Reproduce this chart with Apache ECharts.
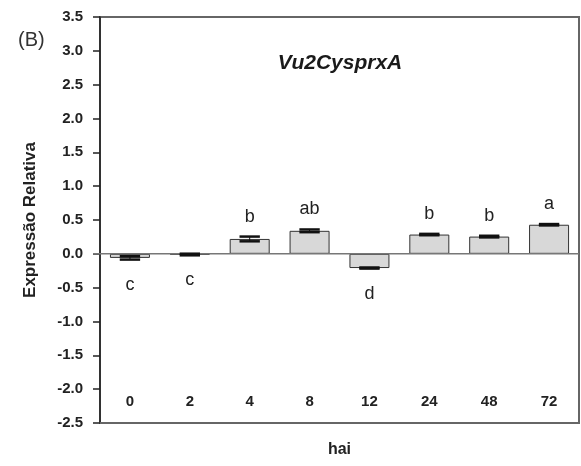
<!DOCTYPE html>
<html>
<head>
<meta charset="utf-8">
<script src="https://cdn.jsdelivr.net/npm/echarts@6/dist/echarts.min.js"></script>
<style>
  html, body { margin: 0; padding: 0; background: #fff; }
  #chart { width: 581px; height: 466px; }
</style>
</head>
<body>
<div id="chart"></div>
<script>
// Hours after inoculation (hai)
const hours = ['0', '2', '4', '8', '12', '24', '48', '72'];
// Relative expression of Vu2CysprxA
const expression = [-0.06, -0.01, 0.22, 0.34, -0.21, 0.285, 0.255, 0.43];
// Standard error of each mean
const stdErr = [0.025, 0.012, 0.035, 0.02, 0.008, 0.01, 0.012, 0.01];
// Significance groups
const groups = ['c', 'c', 'b', 'ab', 'd', 'b', 'b', 'a'];
// Y axis range
const yMin = -2.5, yMax = 3.5, yStep = 0.5;

const FONT = '"Liberation Sans", Arial, sans-serif';

const errData = hours.map((h, i) => [i, expression[i], stdErr[i]]);

const chart = echarts.init(document.getElementById('chart'), null, { renderer: 'canvas' });

chart.setOption({
  animation: false,
  backgroundColor: '#ffffff',
  title: [
    {
      text: 'Vu2CysprxA',
      left: 335,
      top: 48,
      textAlign: 'center',
      textStyle: { fontFamily: FONT, fontSize: 21, fontWeight: 'bold', fontStyle: 'italic', color: '#1a1a1a' }
    },
    {
      text: '(B)',
      left: 13,
      top: 25,
      textStyle: { fontFamily: FONT, fontSize: 20, fontWeight: 'normal', color: '#333' }
    }
  ],
  grid: {
    left: 100, right: 2, top: 17, bottom: 43,
    show: true,
    borderColor: '#666',
    borderWidth: 2,
    backgroundColor: 'transparent'
  },
  xAxis: {
    type: 'category',
    data: hours,
    position: 'bottom',
    name: 'hai',
    nameLocation: 'middle',
    nameGap: 19,
    nameTextStyle: { fontFamily: FONT, fontSize: 16, fontWeight: 'bold', color: '#222' },
    axisLine: { show: true, onZero: false, lineStyle: { color: '#666', width: 2 } },
    axisTick: { show: false },
    axisLabel: {
      inside: true,
      margin: 14,
      fontFamily: FONT, fontSize: 15, fontWeight: 'bold', color: '#222'
    },
    splitLine: { show: false }
  },
  yAxis: {
    type: 'value',
    min: yMin, max: yMax, interval: yStep,
    name: 'Expressão Relativa',
    nameLocation: 'middle',
    nameRotate: 90,
    nameGap: 61,
    nameTextStyle: { fontFamily: FONT, fontSize: 17, fontWeight: 'bold', color: '#222' },
    axisLine: { show: true, lineStyle: { color: '#222', width: 1.5 } },
    axisTick: { show: true, inside: false, length: 7, lineStyle: { color: '#222', width: 1.5 } },
    axisLabel: {
      margin: 17,
      fontFamily: FONT, fontSize: 15, fontWeight: 'bold', color: '#222',
      formatter: v => v.toFixed(1)
    },
    splitLine: { show: false }
  },
  series: [
    {
      type: 'bar',
      data: expression,
      barWidth: 40,
      itemStyle: { color: '#d8d8d8', borderColor: '#333', borderWidth: 1 },
      z: 2
    },
    {
      // Zero reference line, starting at the tick marks
      type: 'custom',
      data: [[0, 0]],
      clip: false,
      z: 3,
      silent: true,
      renderItem: function (params, api) {
        const cs = params.coordSys;
        const y = api.coord([0, 0])[1];
        return {
          type: 'line',
          shape: { x1: cs.x - 7, y1: y, x2: cs.x + cs.width, y2: y },
          style: { stroke: '#777', lineWidth: 1.5 }
        };
      }
    },
    {
      // Error bars with significance letters
      type: 'custom',
      data: errData,
      clip: false,
      z: 4,
      silent: true,
      renderItem: function (params, api) {
        const i = api.value(0);
        const v = api.value(1);
        const e = api.value(2);
        const letter = groups[params.dataIndex];
        const hi = api.coord([i, v + e]);
        const lo = api.coord([i, v - e]);
        const half = api.size([1, 0])[0] * 0.17;
        const x = hi[0];
        const end = v >= 0 ? hi[1] : lo[1];
        const ty = v >= 0 ? end - 20 : end + 25;
        return {
          type: 'group',
          children: [
            { type: 'line', shape: { x1: x, y1: hi[1], x2: x, y2: lo[1] }, style: { stroke: '#111', lineWidth: 1 } },
            { type: 'line', shape: { x1: x - half, y1: hi[1], x2: x + half, y2: hi[1] }, style: { stroke: '#111', lineWidth: 2.5 } },
            { type: 'line', shape: { x1: x - half, y1: lo[1], x2: x + half, y2: lo[1] }, style: { stroke: '#111', lineWidth: 2.5 } },
            {
              type: 'text',
              style: {
                text: letter, x: x, y: ty,
                textAlign: 'center', textVerticalAlign: 'middle',
                font: '18px ' + FONT, fill: '#222'
              }
            }
          ]
        };
      }
    }
  ]
});
</script>
</body>
</html>
